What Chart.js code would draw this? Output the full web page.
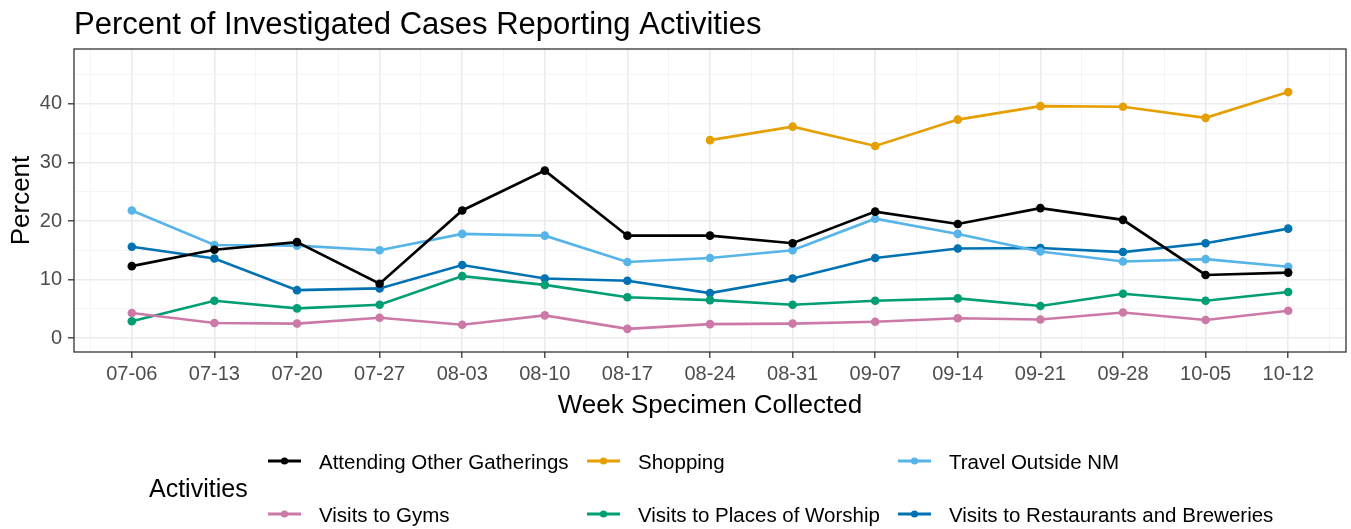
<!DOCTYPE html>
<html>
<head>
<meta charset="utf-8">
<script src="https://cdn.jsdelivr.net/npm/chart.js@4.4.1/dist/chart.umd.min.js"></script>
<style>
  html, body { margin: 0; padding: 0; background: #ffffff; }
  #wrap { width: 1351px; height: 529px; }
</style>
</head>
<body>
<div id="wrap"><canvas id="activityChart" width="1351" height="529"></canvas></div>
<script>
// week the specimen was collected
const weeks = ['07-06', '07-13', '07-20', '07-27', '08-03', '08-10', '08-17', '08-24',
  '08-31', '09-07', '09-14', '09-21', '09-28', '10-05', '10-12'];

// percent of investigated cases reporting each activity
const gatherings = [12.3, 15.1, 16.4, 9.3, 21.8, 28.6, 17.5, 17.5, 16.2, 21.6, 19.5, 22.2, 20.2, 10.8, 11.2];
const shopping = [null, null, null, null, null, null, null, 33.8, 36.1, 32.8, 37.3, 39.6, 39.5, 37.6, 42.0];
const travel = [21.8, 15.9, 15.8, 15.0, 17.8, 17.5, 13.0, 13.7, 15.0, 20.4, 17.8, 14.8, 13.1, 13.5, 12.2];
const gyms = [4.3, 2.6, 2.5, 3.5, 2.3, 3.9, 1.6, 2.4, 2.5, 2.8, 3.4, 3.2, 4.4, 3.1, 4.7];
const worship = [2.9, 6.4, 5.1, 5.7, 10.6, 9.1, 7.0, 6.5, 5.7, 6.4, 6.8, 5.5, 7.6, 6.4, 7.9];
const restaurants = [15.6, 13.6, 8.2, 8.5, 12.5, 10.2, 9.8, 7.7, 10.2, 13.7, 15.3, 15.4, 14.7, 16.2, 18.7];

const yTicks = [0, 10, 20, 30, 40];

const FONT = '"Liberation Sans", Arial, sans-serif';

function series(label, values, color) {
  return {
    label: label,
    data: values.map((v, i) => ({ x: i, y: v })),
    borderColor: color,
    backgroundColor: color,
    pointBackgroundColor: color,
    borderWidth: 2.6,
    pointRadius: 4.3,
    pointBorderWidth: 0,
    tension: 0,
    fill: false,
  };
}

const isMajor = (v) => Math.abs(v - Math.round(v)) < 1e-6;

// title, axis titles, panel border and the ggplot style legend
const decorations = {
  id: 'decorations',
  afterDraw(chart) {
    const ctx = chart.ctx;
    const area = chart.chartArea;
    ctx.save();

    ctx.strokeStyle = '#333333';
    ctx.lineWidth = 1.3;
    ctx.strokeRect(area.left, area.top, area.right - area.left, area.bottom - area.top);

    ctx.fillStyle = '#000000';
    ctx.textBaseline = 'alphabetic';
    ctx.font = '31px ' + FONT;
    ctx.textAlign = 'left';
    ctx.fillText('Percent of Investigated Cases Reporting Activities', 74, 34);

    ctx.font = '26px ' + FONT;
    ctx.textAlign = 'center';
    ctx.fillText('Week Specimen Collected', (area.left + area.right) / 2, 413);

    ctx.save();
    ctx.translate(29, (area.top + area.bottom) / 2);
    ctx.rotate(-Math.PI / 2);
    ctx.fillText('Percent', 0, 0);
    ctx.restore();

    ctx.textAlign = 'left';
    ctx.font = '25px ' + FONT;
    ctx.fillText('Activities', 149, 497);

    const colX = [268, 587, 898];
    const rowY = [461, 514];
    ctx.font = '20.5px ' + FONT;
    chart.data.datasets.forEach((ds, i) => {
      const x = colX[i % 3];
      const y = rowY[Math.floor(i / 3)];
      ctx.strokeStyle = ds.borderColor;
      ctx.lineWidth = 2.8;
      ctx.beginPath();
      ctx.moveTo(x, y);
      ctx.lineTo(x + 33, y);
      ctx.stroke();
      ctx.fillStyle = ds.borderColor;
      ctx.beginPath();
      ctx.arc(x + 16.5, y, 3.6, 0, Math.PI * 2);
      ctx.fill();
      ctx.fillStyle = '#000000';
      ctx.fillText(ds.label, x + 51, y + 8);
    });

    ctx.restore();
  }
};

const ctx = document.getElementById('activityChart').getContext('2d');
const chart = new Chart(ctx, {
  type: 'line',
  data: {
    datasets: [
      series('Attending Other Gatherings', gatherings, '#000000'),
      series('Shopping', shopping, '#E69F00'),
      series('Travel Outside NM', travel, '#56B4E9'),
      series('Visits to Gyms', gyms, '#CC79A7'),
      series('Visits to Places of Worship', worship, '#009E73'),
      series('Visits to Restaurants and Breweries', restaurants, '#0072B2'),
    ],
  },
  options: {
    responsive: false,
    animation: false,
    layout: { padding: { top: 49, right: 5, bottom: 0, left: 0 } },
    plugins: {
      legend: { display: false },
      title: { display: false },
      tooltip: { enabled: false }
    },
    scales: {
      x: {
        type: 'linear',
        min: -0.7,
        max: weeks.length - 1 + 0.7,
        bounds: 'data',
        afterBuildTicks(scale) {
          const t = [];
          for (let v = -0.5; v <= weeks.length - 0.5; v += 0.5) t.push({ value: v });
          scale.ticks = t;
        },
        afterFit(scale) { scale.height = 177; },
        border: { display: false },
        grid: {
          color: (c) => isMajor(c.tick.value) ? '#EBEBEB' : '#F3F3F3',
          lineWidth: (c) => isMajor(c.tick.value) ? 1.6 : 0.9,
          tickColor: (c) => isMajor(c.tick.value) ? '#333333' : 'rgba(0,0,0,0)',
          tickLength: 6,
          tickWidth: 1.3,
        },
        ticks: {
          autoSkip: false,
          maxRotation: 0,
          padding: 4,
          color: '#4D4D4D',
          font: { family: FONT, size: 20 },
          callback: (v) => isMajor(v) ? (weeks[Math.round(v)] || '') : '',
        },
      },
      y: {
        min: -2.35,
        max: 49.35,
        bounds: 'data',
        afterBuildTicks(scale) {
          const t = [];
          for (let v = 0; v <= 45; v += 5) t.push({ value: v });
          scale.ticks = t;
        },
        afterFit(scale) { scale.width = 74; },
        border: { display: false },
        grid: {
          color: (c) => yTicks.includes(c.tick.value) ? '#EBEBEB' : '#F3F3F3',
          lineWidth: (c) => yTicks.includes(c.tick.value) ? 1.6 : 0.9,
          tickColor: (c) => yTicks.includes(c.tick.value) ? '#333333' : 'rgba(0,0,0,0)',
          tickLength: 6,
          tickWidth: 1.3,
        },
        ticks: {
          autoSkip: false,
          padding: 6,
          color: '#4D4D4D',
          font: { family: FONT, size: 20 },
          callback: (v) => yTicks.includes(v) ? String(v) : '',
        },
      },
    },
  },
  plugins: [decorations],
});
</script>
</body>
</html>
